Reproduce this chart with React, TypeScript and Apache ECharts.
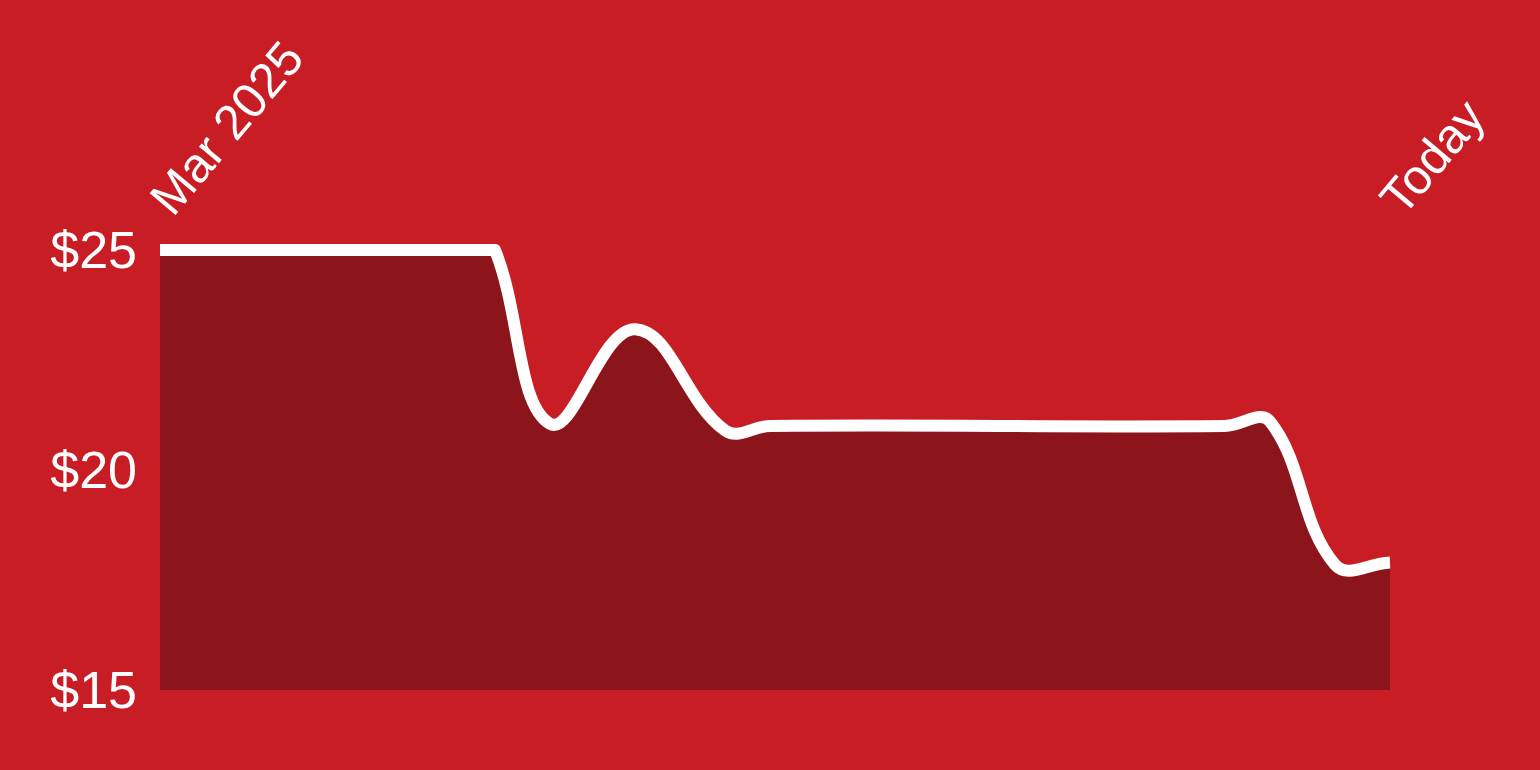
import React, { useEffect, useRef } from "react";
import * as echarts from "echarts";

// days since the start of March 2025, and the price on that day
const dayOffsets = [0, 64, 67, 78, 95, 113, 122, 213, 222, 235, 246];
const prices = [25, 25, 25, 21.05, 23.2, 20.9, 21.0, 21.0, 21.1, 17.85, 17.9];
const firstLabel = "Mar 2025";
const lastLabel = "Today";
const priceTicks = [15, 20, 25];

const BG = "#C91D26";
const AREA = "#8B151B";
const TENSION = 0.4;

type Pt = { x: number; y: number };

// spline control points, capped to the plot area
const controlPoints = (pts: Pt[], box: { x: number; y: number; width: number; height: number }) => {
  const cap = (p: Pt) => ({
    x: Math.min(Math.max(p.x, box.x), box.x + box.width),
    y: Math.min(Math.max(p.y, box.y), box.y + box.height),
  });
  return pts.map((cur, i) => {
    const prev = pts[i - 1] || cur;
    const next = pts[i + 1] || cur;
    const d01 = Math.hypot(cur.x - prev.x, cur.y - prev.y);
    const d12 = Math.hypot(next.x - cur.x, next.y - cur.y);
    const s01 = d01 + d12 ? d01 / (d01 + d12) : 0;
    const s12 = d01 + d12 ? d12 / (d01 + d12) : 0;
    const fa = TENSION * s01;
    const fb = TENSION * s12;
    return {
      before: cap({ x: cur.x - fa * (next.x - prev.x), y: cur.y - fa * (next.y - prev.y) }),
      after: cap({ x: cur.x + fb * (next.x - prev.x), y: cur.y + fb * (next.y - prev.y) }),
    };
  });
};

const App = function () {
  const chart = useRef<HTMLDivElement>(null);

  useEffect(() => {
    document.body.style.margin = "0";
    if (!chart.current) return;
    const myChart = echarts.init(chart.current, null, { renderer: "svg" });
    const lastDay = dayOffsets[dayOffsets.length - 1];

    const renderItem = (params: any, api: any) => {
      if (params.dataIndex !== 0) return null;
      const box = params.coordSys;
      const pts: Pt[] = dayOffsets.map((d, i) => {
        const c = api.coord([d, prices[i]]);
        return { x: c[0], y: c[1] };
      });
      const cps = controlPoints(pts, box);
      let line = `M${pts[0].x},${pts[0].y}`;
      for (let i = 1; i < pts.length; i++) {
        const a = cps[i - 1].after;
        const b = cps[i].before;
        line += ` C${a.x},${a.y} ${b.x},${b.y} ${pts[i].x},${pts[i].y}`;
      }
      const base = api.coord([0, priceTicks[0]])[1];
      const area =
        line + ` L${pts[pts.length - 1].x},${base} L${pts[0].x},${base} Z`;
      return {
        type: "group",
        children: [
          { type: "path", shape: { pathData: area }, style: { fill: AREA } },
          {
            type: "path",
            shape: { pathData: line },
            style: {
              fill: "none",
              stroke: "#fff",
              lineWidth: 12,
              lineCap: "butt",
              lineJoin: "round",
            },
          },
        ],
      };
    };

    const option = {
      animation: false,
      backgroundColor: BG,
      grid: {
        left: 160,
        right: 150,
        top: 250,
        bottom: 80,
        outerBoundsMode: "none",
      },
      xAxis: {
        type: "value",
        position: "top",
        min: 0,
        max: lastDay,
        interval: lastDay,
        axisLine: { show: false },
        axisTick: { show: false },
        splitLine: { show: false },
        axisLabel: {
          rotate: -50,
          margin: 43,
          color: "#fff",
          fontSize: 49,
          fontFamily: "Liberation Sans",
          formatter: (v: number) => (v === 0 ? firstLabel : lastLabel),
        },
      },
      yAxis: {
        type: "value",
        min: priceTicks[0],
        max: priceTicks[priceTicks.length - 1],
        interval: 5,
        axisLine: { show: false },
        axisTick: { show: false },
        splitLine: { show: false },
        axisLabel: {
          margin: 23,
          color: "#fff",
          fontSize: 52,
          fontFamily: "Liberation Sans",
          formatter: (v: number) => "$" + v,
        },
      },
      series: [
        {
          type: "custom",
          clip: false,
          silent: true,
          data: dayOffsets.map((d, i) => [d, prices[i]]),
          encode: { x: 0, y: 1 },
          renderItem,
        },
      ],
    };
    myChart.setOption(option);
    return () => {
      myChart.dispose();
    };
  }, []);

  return (
    <div
      ref={chart}
      style={{ position: "fixed", left: 0, top: 0, width: 1540, height: 770 }}
    ></div>
  );
};

export default App;
